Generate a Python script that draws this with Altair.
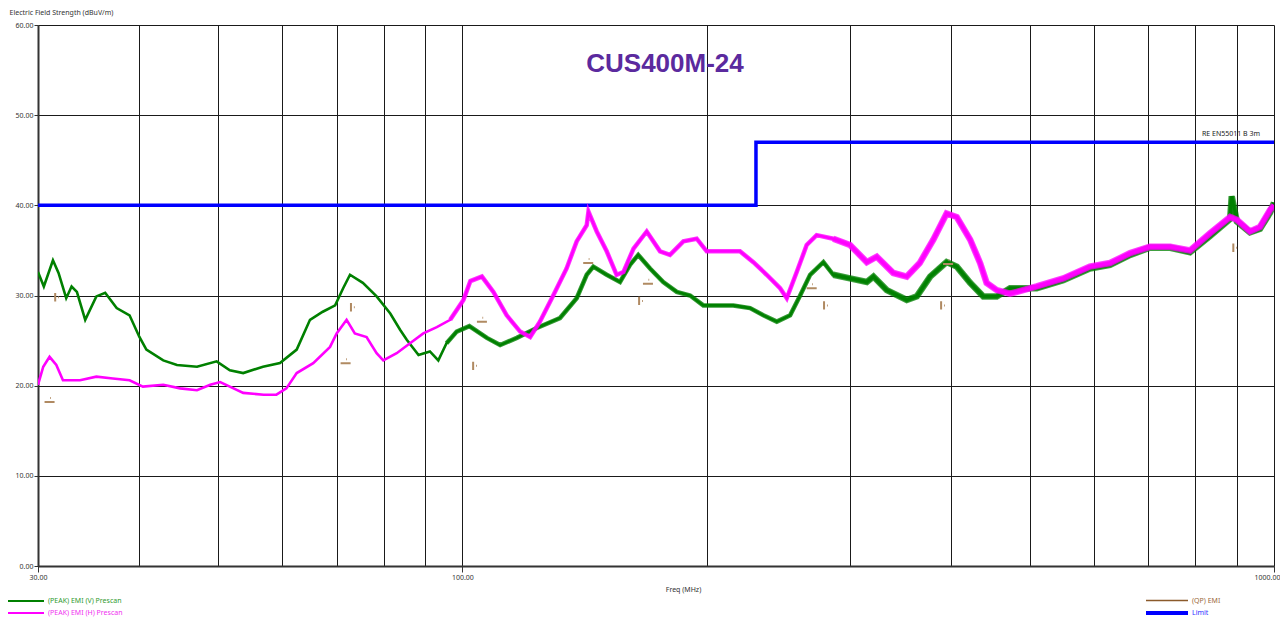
import altair as alt
import pandas as pd

# ---------------- data ----------------
title_text = "CUS400M-24"
limit_name = "RE EN55011 B 3m"

# (PEAK) EMI (V) Prescan  - green
v_freq = [30.0, 30.5, 31.3, 31.8, 32.5, 33.0, 33.5, 34.3, 35.4, 36.3, 37.5, 38.9, 40.0, 40.8,
          42.8, 44.5, 47.1, 49.8, 51.7, 53.7, 56.8, 59.6, 62.5, 64.9, 67.3, 69.7, 71.3, 72.7,
          75.4, 78.4, 81.5, 83.8, 85.4, 88.3, 91.2, 93.4, 95.6, 98.4, 102.0, 107.2, 111.3,
          116.7, 123.5, 131.9, 138.3, 142.3, 145.0, 150.6, 156.4, 160.9, 164.7, 170.3, 176.8,
          183.7, 190.8, 198.1, 205.8, 215.7, 226.2, 234.9, 244.0, 253.4, 260.7, 268.2, 278.5,
          286.4, 300.3, 315.0, 321.0, 333.3, 352.8, 363.0, 377.0, 395.0, 406.6, 422.3, 438.4,
          455.4, 472.9, 510.0, 550.0, 593.0, 628.0, 665.0, 703.0, 745.0, 788.0, 834.0, 883.0,
          887.0, 900.0, 934.0, 961.0, 989.0, 1000.0]
v_level = [32.6, 31.0, 33.9, 32.5, 29.7, 31.0, 30.4, 27.3, 29.9, 30.3, 28.6, 27.8, 25.4, 24.0,
           22.8, 22.3, 22.1, 22.7, 21.7, 21.4, 22.1, 22.5, 24.0, 27.3, 28.2, 28.9, 30.8, 32.3,
           31.4, 29.9, 28.0, 26.2, 25.1, 23.4, 23.8, 22.8, 24.7, 26.0, 26.6, 25.3, 24.5,
           25.3, 26.4, 27.5, 29.7, 32.3, 33.2, 32.3, 31.5, 33.4, 34.5, 33.0, 31.5,
           30.4, 30.0, 28.9, 28.9, 28.9, 28.6, 27.8, 27.1, 27.8, 30.0, 32.3, 33.7,
           32.3, 31.9, 31.5, 32.1, 30.6, 29.5, 29.9, 32.1, 33.7, 33.2, 31.4, 29.9,
           29.9, 30.8, 30.8, 31.7, 33.0, 33.4, 34.5, 35.3, 35.3, 34.8, 36.6, 38.5,
           41.0, 38.2, 37.0, 37.4, 39.2, 40.3]

# (PEAK) EMI (H) Prescan  - magenta
h_freq = [30.0, 30.45, 31.0, 31.6, 32.2, 33.8, 35.4, 37.1, 38.9, 40.4, 42.8, 44.9, 47.1, 48.9,
          50.3, 51.7, 53.7, 56.9, 59.0, 60.7, 62.5, 65.5, 68.7, 70.0, 72.0, 73.7, 76.2, 78.4,
          79.9, 83.0, 86.2, 89.5, 93.0, 96.6, 100.3, 102.3, 105.7, 109.2, 113.4, 117.8, 121.2,
          124.6, 129.4, 134.4, 138.3, 142.3, 143.0, 146.4, 150.6, 154.9, 157.9, 162.5, 168.7,
          175.2, 180.2, 187.2, 194.4, 200.0, 209.7, 219.8, 228.3, 237.1, 246.3, 251.0, 258.2,
          265.6, 273.2, 286.4, 300.3, 315.0, 324.0, 339.6, 352.8, 366.0, 380.4, 395.0, 406.6,
          422.3, 434.4, 442.5, 455.4, 472.9, 510.0, 550.0, 593.0, 628.0, 665.0, 703.0, 745.0,
          788.0, 834.0, 883.0, 900.0, 934.0, 961.0, 989.0, 1000.0]
h_level = [20.1, 22.1, 23.2, 22.3, 20.6, 20.6, 21.0, 20.8, 20.6, 19.9, 20.1, 19.7, 19.5, 20.1,
           20.4, 19.9, 19.2, 19.0, 19.0, 19.7, 21.4, 22.5, 24.3, 25.8, 27.3, 25.8, 25.4, 23.6,
           22.8, 23.6, 24.7, 25.8, 26.5, 27.3, 29.5, 31.6, 32.1, 30.4, 27.8, 26.0, 25.4,
           27.1, 30.0, 33.0, 36.0, 37.8, 39.3, 37.1, 34.9, 32.3, 32.6, 35.2, 37.1,
           34.9, 34.5, 36.0, 36.3, 34.9, 34.9, 34.9, 33.7, 32.3, 30.8, 29.7, 32.6,
           35.6, 36.7, 36.3, 35.6, 33.7, 34.3, 32.5, 32.1, 33.6, 36.2, 39.1, 38.7,
           36.2, 33.6, 31.4, 30.6, 30.2, 31.0, 31.9, 33.2, 33.6, 34.7, 35.4, 35.4,
           35.0, 36.9, 38.7, 38.4, 37.1, 37.6, 39.5, 40.0]

# (QP) EMI points
qp_h_freq = [31.0, 71.8, 105.7, 142.9, 169.3, 269.4, 396.7]
qp_h_level = [18.2, 22.5, 27.1, 33.6, 31.3, 30.8, 33.5]
qp_v_freq = [31.5, 72.9, 103.1, 165.1, 279.0, 388.9, 891.0]
qp_v_level = [29.8, 28.7, 22.2, 29.4, 28.9, 28.9, 35.3]

# Limit line
limit_freq = [30, 230, 230, 1000]
limit_level = [40, 40, 47, 47]

# axis values
x_grid = [30, 40, 50, 60, 70, 80, 90, 100, 200, 300, 400, 500, 600, 700, 800, 900, 1000]
x_labelled = [30, 100, 1000]
y_ticks = [0, 10, 20, 30, 40, 50, 60]

legend_names = ["(PEAK) EMI (V) Prescan", "(PEAK) EMI (H) Prescan", "(QP) EMI", "Limit"]
legend_colors = ["#008000", "#ff00ff", "#8b5a2b", "#0000ff"]
legend_text_colors = ["#2f9a2f", "#f030f0", "#9b6a3c", "#3030ff"]

# ---------------- chart ----------------
FONT = "Noto Sans"
W, H = 1236, 541

lab_test = "indexof([30,100,1000], datum.value) >= 0"
last_test = "datum.value >= 1000"
xscale = alt.Scale(type="log", domain=[30, 1000], nice=False)
yscale = alt.Scale(domain=[0, 60], nice=False)

xaxis = alt.Axis(
    values=x_grid, grid=True, gridColor="#1a1a1a", gridWidth=1, gridOpacity=1,
    domainColor="#333333", domainWidth=2,
    tickColor="#333333", tickSize=6, tickWidth=1,
    tickOpacity={"condition": {"test": lab_test, "value": 1}, "value": 0},
    labelExpr=lab_test + " ? format(datum.value, '.2f') : ''",
    labelAlign={"condition": {"test": last_test, "value": "right"}, "value": "center"},
    labelOffset={"condition": {"test": last_test, "value": 6}, "value": 0},
    labelFont=FONT, labelFontSize=7, labelColor="#333333", labelPadding=1,
    labelOverlap=False, labelFlush=False,
    title="Freq (MHz)", titleFont=FONT, titleFontSize=7, titleFontWeight="normal",
    titleColor="#333333", titleX=645, titleY=23, titleBaseline="middle",
)
yaxis = alt.Axis(
    values=y_ticks, format=".2f", grid=True, gridColor="#1a1a1a", gridWidth=1, gridOpacity=1,
    domainColor="#333333", domainWidth=2,
    tickColor="#333333", tickSize=4, tickWidth=1,
    labelFont=FONT, labelFontSize=7, labelColor="#333333", labelPadding=1,
    title="Electric Field Strength (dBuV/m)", titleFont=FONT, titleFontSize=7,
    titleFontWeight="normal", titleColor="#333333", titleAngle=0, titleAlign="left",
    titleBaseline="middle", titleX=-29, titleY=-13,
)


def X(field):
    return alt.X(field, type="quantitative", scale=xscale, axis=xaxis)


def Y(field):
    return alt.Y(field, type="quantitative", scale=yscale, axis=yaxis)


v_df = pd.DataFrame({"f": v_freq, "dB": v_level})
h_df = pd.DataFrame({"f": h_freq, "dB": h_level})
lim_df = pd.DataFrame({"f": limit_freq, "dB": limit_level, "i": list(range(len(limit_freq)))})
qph_df = pd.DataFrame({"f": qp_h_freq, "dB": qp_h_level})
qpv_df = pd.DataFrame({"f": qp_v_freq, "dB": qp_v_level})


def trace(df, color):
    # noisy scan band: the sweep gets denser (thicker band) at higher frequencies
    base = alt.Chart(df).mark_line(color=color, strokeWidth=2.6, clip=True).encode(
        x=X("f"), y=Y("dB"))
    band1 = alt.Chart(df).transform_filter("datum.f >= 95").mark_line(
        color=color, strokeWidth=4.5, opacity=0.8, clip=True).encode(x=X("f"), y=Y("dB"))
    band2 = alt.Chart(df).transform_filter("datum.f >= 280").mark_line(
        color=color, strokeWidth=6.5, opacity=0.75, clip=True).encode(x=X("f"), y=Y("dB"))
    return [band2, band1, base]


green_layers = trace(v_df, "#008000")
magenta_layers = trace(h_df, "#ff00ff")

limit = alt.Chart(lim_df).mark_line(color="#0000ff", strokeWidth=3.5).encode(
    x=X("f"), y=Y("dB"), order="i:O")
limit_label = alt.Chart(pd.DataFrame({"f": [1000], "dB": [47], "t": [limit_name]})).mark_text(
    font=FONT, fontSize=7, color="#222222", align="right", baseline="middle", dx=-14, dy=-8
).encode(x=X("f"), y=Y("dB"), text="t:N")

qp_color = "#b08a62"
qp_h = alt.Chart(qph_df).mark_point(
    shape="M-1,0L1,0M0.1,-0.8L0.25,-0.8", filled=False, color=qp_color,
    strokeWidth=2, size=100, opacity=1
).encode(x=X("f"), y=Y("dB"))
qp_v = alt.Chart(qpv_df).mark_point(
    shape="M0,-1L0,1M0.7,0L0.9,0", filled=False, color=qp_color,
    strokeWidth=2, size=70, opacity=1
).encode(x=X("f"), y=Y("dB"))

title = alt.Chart(pd.DataFrame({"t": [title_text]})).mark_text(
    font="Liberation Sans", fontSize=26, fontWeight="bold", color="#5b2a9e",
    align="center", baseline="alphabetic"
).encode(x=alt.value(627), y=alt.value(46.5), text="t:N")

# manual legend
leg_pos = [(-30, 6, 576, 2.0), (-30, 6, 588, 2.0), (1108, 1150, 575.5, 1.5), (1108, 1150, 588, 4.0)]
legend_layers = []
for name, col, tcol, (x0, x1, yy, sw) in zip(legend_names, legend_colors, legend_text_colors, leg_pos):
    d = pd.DataFrame({"t": [name]})
    legend_layers.append(
        alt.Chart(d).mark_rule(color=col, strokeWidth=sw).encode(
            x=alt.value(x0), x2=alt.value(x1), y=alt.value(yy)))
    legend_layers.append(
        alt.Chart(d).mark_text(font=FONT, fontSize=7, color=tcol, align="left",
                               baseline="middle").encode(
            x=alt.value(x1 + 4), y=alt.value(yy), text="t:N"))

chart = alt.layer(
    limit, *green_layers, *magenta_layers, qp_h, qp_v, limit_label, title, *legend_layers
).properties(
    width=W, height=H,
    padding={"left": 30, "top": 17, "right": 6, "bottom": 52},
    autosize=alt.AutoSizeParams(type="none"),
    background="white",
).configure_view(strokeWidth=0)

chart.save("out.html", embed_options={"renderer": "svg", "actions": False})
